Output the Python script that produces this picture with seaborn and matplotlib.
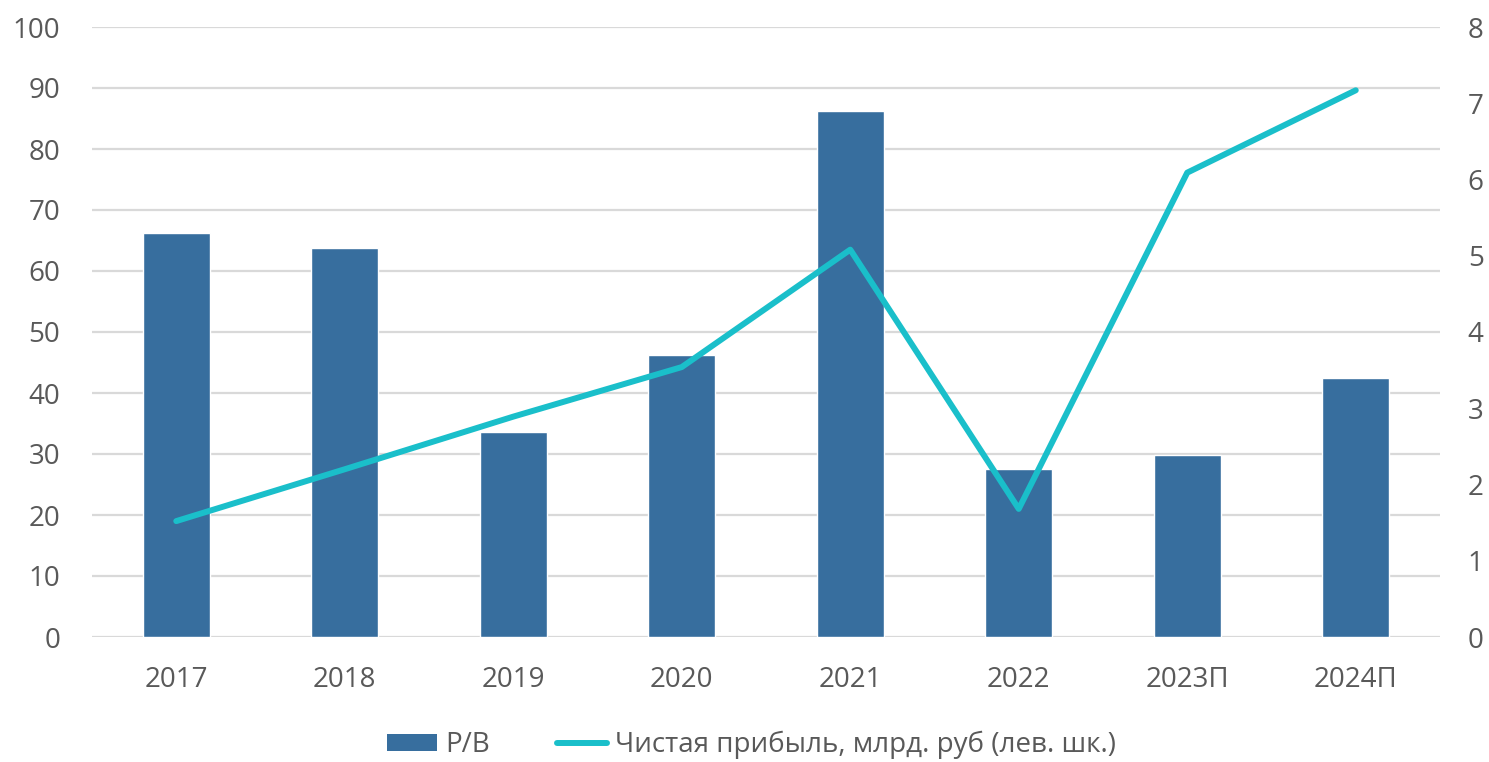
import matplotlib
matplotlib.use("Agg")
import matplotlib.pyplot as plt
import seaborn as sns
import pandas as pd
from matplotlib.patches import Patch
from matplotlib.lines import Line2D

years = ["2017", "2018", "2019", "2020", "2021", "2022", "2023П", "2024П"]
pb = [66.2, 63.8, 33.6, 46.2, 86.2, 27.5, 29.9, 42.5]
profit = [1.52, 2.2, 2.89, 3.54, 5.08, 1.68, 6.09, 7.17]
left_ticks = [0, 10, 20, 30, 40, 50, 60, 70, 80, 90, 100]
right_ticks = [0, 1, 2, 3, 4, 5, 6, 7, 8]
bar_label = "P/B"
line_label = "Чистая прибыль, млрд. руб (лев. шк.)"

bar_color = "#376E9E"
line_color = "#1ABFCA"
text_color = "#595959"
grid_color = "#D9D9D9"
fs = 20

sns.set_style("white")
plt.rcParams["font.family"] = ["Open Sans", "DejaVu Sans"]

df = pd.DataFrame({"year": years, "pb": pb, "profit": profit})

fig = plt.figure(figsize=(14.89, 7.62), dpi=100)
ax = fig.add_axes([92 / 1489, 125 / 762, (1440 - 92) / 1489, 610 / 762])

sns.barplot(data=df, x="year", y="pb", color=bar_color, width=0.4,
            saturation=1, ax=ax, zorder=2)
ax.set_ylim(0, 100)
ax.set_xlim(-0.5, len(years) - 0.5)
ax.set_yticks(left_ticks)
ax.yaxis.grid(True, color=grid_color, linewidth=1.6, zorder=0)
ax.set_axisbelow(True)
for s in ax.spines.values():
    s.set_visible(False)
ax.tick_params(axis="both", length=0, labelsize=fs, colors=text_color)
ax.tick_params(axis="y", pad=23)
ax.tick_params(axis="x", pad=21)
ax.set_xlabel("")
ax.set_ylabel("")

ax2 = ax.twinx()
sns.lineplot(x=list(range(len(years))), y=profit, color=line_color,
             linewidth=4.3, ax=ax2, solid_capstyle="round")
ax2.set_ylim(0, 8)
ax2.set_yticks(right_ticks)
for s in ax2.spines.values():
    s.set_visible(False)
ax2.tick_params(axis="y", length=0, labelsize=fs, colors=text_color, pad=20)
ax2.grid(False)
ax2.set_xlim(-0.5, len(years) - 0.5)

handles = [Patch(facecolor=bar_color, edgecolor="none"),
           Line2D([0], [0], color=line_color, linewidth=4.3)]
fig.legend(handles, [bar_label, line_label], loc="center",
           bbox_to_anchor=(0.505, 1 - 745 / 762), ncol=2, frameon=False,
           fontsize=fs, labelcolor=text_color, handlelength=1.8,
           handleheight=0.6, handletextpad=0.3, columnspacing=2.4)

fig.savefig("out.png", dpi=100, facecolor="white")
